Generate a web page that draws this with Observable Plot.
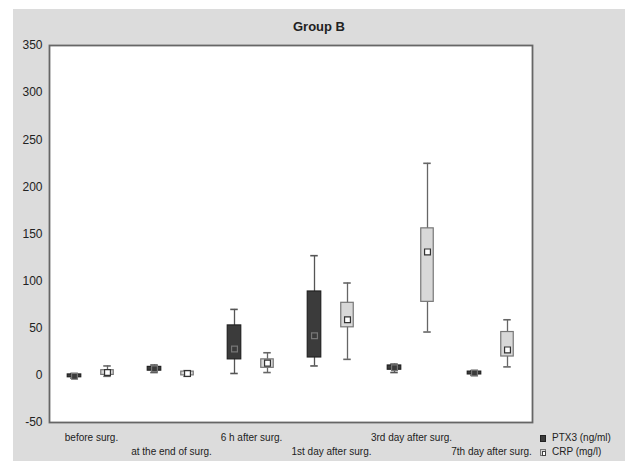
<!DOCTYPE html>
<html>
<head>
<meta charset="utf-8">
<script src="https://cdn.jsdelivr.net/npm/d3@7"></script>
<script src="https://cdn.jsdelivr.net/npm/@observablehq/plot@0.6"></script>
<style>
  html, body { margin: 0; padding: 0; background: white; }
  #wrap { position: relative; width: 625px; height: 461px; overflow: hidden; font-family: "Liberation Sans", Arial, sans-serif; }
  #bg { position: absolute; left: 13px; top: 9px; width: 612px; height: 452px; background: #dcdcdc; }
  #chart { position: absolute; left: 0; top: 0; }
  #title { position: absolute; left: 13px; width: 612px; top: 19px; text-align: center; font-weight: bold; font-size: 13px; color: #222; }
  #legend { position: absolute; left: 540px; top: 431px; font-size: 10px; color: #222; line-height: 14px; }
  .row { display: flex; align-items: center; white-space: nowrap; }
  .sw { width: 6px; height: 7px; margin-right: 6px; box-sizing: border-box; position: relative; }
</style>
</head>
<body>
<div id="wrap">
  <div id="bg"></div>
  <div id="chart"></div>
  <div id="title">Group B</div>
  <div id="legend"></div>
</div>
<script>
const categories = ["before surg.", "at the end of surg.", "6 h after surg.", "1st day after surg.", "3rd day after surg.", "7th day after surg."];
const seriesNames = ["PTX3 (ng/ml)", "CRP (mg/l)"];
const yTicks = [-50, 0, 50, 100, 150, 200, 250, 300, 350];

// PTX3 (ng/ml)
const ptx3Min = [-3, 3, 2, 10, 3, 0];
const ptx3Q1  = [-2, 5, 17, 19, 6, 1];
const ptx3Med = [-1, 7, 28, 42, 8, 2.5];
const ptx3Q3  = [1, 9, 53, 89, 10.5, 4];
const ptx3Max = [2, 11, 70, 127, 12, 5];

// CRP (mg/l)
const crpMin = [-1, -1, 3, 17, 46, 9];
const crpQ1  = [0.5, 0, 8, 51, 78, 20];
const crpMed = [3, 2, 13, 59, 131, 27];
const crpQ3  = [5.5, 4, 17, 77, 156, 46];
const crpMax = [10, 5, 24, 98, 225, 59];

const ptx3Rows = categories.map((c, i) => ({cat: c, min: ptx3Min[i], q1: ptx3Q1[i], med: ptx3Med[i], q3: ptx3Q3[i], max: ptx3Max[i]}));
const crpRows = categories.map((c, i) => ({cat: c, min: crpMin[i], q1: crpQ1[i], med: crpMed[i], q3: crpQ3[i], max: crpMax[i]}));

const bw = (625 - 49 - 93) / categories.length;
function boxMarks(rows, dx, boxW, fill, stroke, whisk, medFill, medStroke) {
  const capIn = (bw - 8) / 2;
  const boxIn = (bw - boxW) / 2;
  return [
    Plot.ruleX(rows, {x: "cat", y1: "min", y2: "max", dx, stroke: whisk, strokeWidth: 1.3}),
    Plot.tickY(rows, {x: "cat", y: "max", dx, insetLeft: capIn, insetRight: capIn, stroke: whisk, strokeWidth: 1.6}),
    Plot.tickY(rows, {x: "cat", y: "min", dx, insetLeft: capIn, insetRight: capIn, stroke: whisk, strokeWidth: 1.6}),
    Plot.barY(rows, {x: "cat", y1: "q1", y2: "q3", dx, insetLeft: boxIn, insetRight: boxIn, fill, stroke, strokeWidth: 1.2}),
    Plot.dot(rows, {x: "cat", y: "med", dx, symbol: "square", r: 3.3, fill: medFill, stroke: medStroke, strokeWidth: 1.2})
  ];
}

const even = categories.filter((d, i) => i % 2 === 0);
const odd = categories.filter((d, i) => i % 2 === 1);

const chart = Plot.plot({
  width: 625,
  height: 461,
  marginLeft: 49,
  marginRight: 93,
  marginTop: 45,
  marginBottom: 39,
  style: {background: "transparent", fontFamily: "'Liberation Sans', Arial, sans-serif", color: "#222"},
  x: {domain: categories, padding: 0, axis: null},
  y: {domain: [-50, 350], axis: null},
  marks: [
    Plot.frame({fill: "white", stroke: "none"}),
    Plot.axisY({ticks: yTicks, tickSize: 0, tickPadding: 7, fontSize: 12, label: null, tickFormat: d => String(d)}),
    Plot.axisX({ticks: even, tickSize: 0, tickPadding: 11, fontSize: 10, label: null, letterSpacing: "-0.3px"}),
    Plot.axisX({ticks: odd, tickSize: 0, tickPadding: 25, fontSize: 10, label: null, letterSpacing: "-0.3px"}),
    ...boxMarks(ptx3Rows, -17, 14, "#3b3b3b", "#222", "#555", "#3b3b3b", "#777"),
    ...boxMarks(crpRows, 16, 13, "#d8d8d8", "#777", "#666", "white", "#333"),
    Plot.frame({stroke: "#666", strokeWidth: 1.8})
  ]
});
document.getElementById("chart").appendChild(chart);

const legendColors = [
  {fill: "#3b3b3b", stroke: "#222", inner: false},
  {fill: "#d8d8d8", stroke: "#777", inner: true}
];
const legend = document.getElementById("legend");
seriesNames.forEach((name, i) => {
  const row = document.createElement("div");
  row.className = "row";
  const sw = document.createElement("div");
  sw.className = "sw";
  sw.style.background = legendColors[i].fill;
  sw.style.border = "1px solid " + legendColors[i].stroke;
  if (legendColors[i].inner) {
    const inn = document.createElement("div");
    inn.style.cssText = "position:absolute;left:1px;top:1px;width:2px;height:3px;background:white;border:0.5px solid #444;";
    sw.appendChild(inn);
  }
  const t = document.createElement("span");
  t.textContent = name;
  row.appendChild(sw);
  row.appendChild(t);
  legend.appendChild(row);
});
</script>
</body>
</html>
